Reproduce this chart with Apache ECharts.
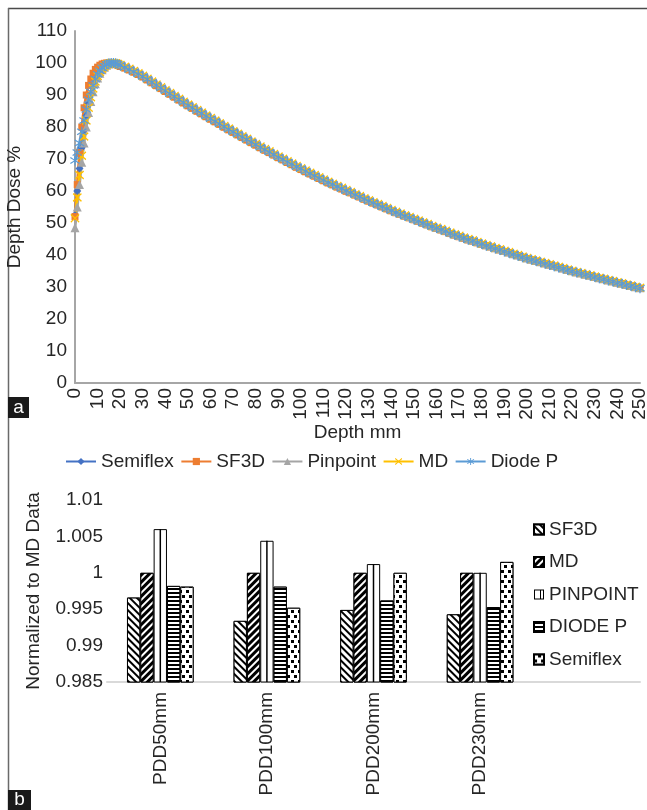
<!DOCTYPE html>
<html>
<head>
<meta charset="utf-8">
<script src="https://cdn.jsdelivr.net/npm/echarts@6/dist/echarts.min.js"></script>
<style>
  html, body { margin: 0; padding: 0; background: #fff; }
  .layer { position: absolute; left: 0; top: 0; width: 647px; height: 810px; }
</style>
</head>
<body>
<div id="pdd" class="layer"></div>
<div id="ratio" class="layer"></div>
<script>
// ---- Panel a: percentage depth dose curves (depth in mm) ----
const depthMm = [
  0, 1, 2, 3, 4, 5, 6, 7, 8, 9, 10, 11, 12, 13, 14, 15, 16, 17, 18, 19, 20,
  22, 24, 26, 28, 30, 32, 34, 36, 38, 40,
  42, 44, 46, 48, 50, 52, 54, 56, 58, 60,
  62, 64, 66, 68, 70, 72, 74, 76, 78, 80,
  82, 84, 86, 88, 90, 92, 94, 96, 98, 100,
  102, 104, 106, 108, 110, 112, 114, 116, 118, 120,
  122, 124, 126, 128, 130, 132, 134, 136, 138, 140,
  142, 144, 146, 148, 150, 152, 154, 156, 158, 160,
  162, 164, 166, 168, 170, 172, 174, 176, 178, 180,
  182, 184, 186, 188, 190, 192, 194, 196, 198, 200,
  202, 204, 206, 208, 210, 212, 214, 216, 218, 220,
  222, 224, 226, 228, 230, 232, 234, 236, 238, 240,
  242, 244, 246, 248, 250
];

const semiflexPdd = [
  52.5, 60, 67, 73.5, 79, 83.5, 87.3, 90.3, 92.8, 94.8, 96.3, 97.5, 98.4, 99.1, 99.6, 99.9, 100, 100, 99.8, 99.6, 99.3,
  98.6, 98.0, 97.3, 96.6, 95.8, 94.9, 94.0, 93.1, 92.2, 91.3,
  90.4, 89.5, 88.6, 87.7, 86.8, 86.0, 85.1, 84.3, 83.4, 82.6,
  81.8, 81.0, 80.1, 79.3, 78.5, 77.7, 76.9, 76.1, 75.3, 74.5,
  73.6, 72.8, 72.1, 71.3, 70.5, 69.8, 69.0, 68.3, 67.5, 66.8,
  66.1, 65.4, 64.7, 64.0, 63.3, 62.6, 62.0, 61.3, 60.7, 60.0,
  59.4, 58.7, 58.1, 57.4, 56.8, 56.2, 55.6, 55.0, 54.4, 53.8,
  53.4, 52.9, 52.3, 51.8, 51.2, 50.7, 50.1, 49.6, 49.0, 48.5,
  48.0, 47.5, 46.9, 46.4, 45.9, 45.4, 44.9, 44.5, 44.0, 43.5,
  43.0, 42.6, 42.1, 41.7, 41.2, 40.9, 40.4, 40.0, 39.5, 39.1,
  38.7, 38.3, 37.9, 37.5, 37.1, 36.7, 36.3, 35.9, 35.5, 35.1,
  34.7, 34.4, 34.0, 33.7, 33.3, 33.0, 32.7, 32.3, 32.0, 31.6,
  31.3, 30.9, 30.6, 30.2, 29.9
];

const sf3dPdd = [
  52, 62, 72, 80, 86, 90, 93, 95, 96.8, 98, 98.7, 99.3, 99.7, 99.9, 100, 100, 99.9, 99.7, 99.5, 99.2, 98.9,
  98.4, 97.8, 97.1, 96.4, 95.6, 94.7, 93.8, 92.9, 92.0, 91.1,
  90.2, 89.3, 88.4, 87.5, 86.6, 85.8, 84.9, 84.1, 83.2, 82.4,
  81.6, 80.8, 79.9, 79.1, 78.3, 77.5, 76.7, 75.9, 75.1, 74.3,
  73.5, 72.7, 72.0, 71.2, 70.4, 69.7, 68.9, 68.2, 67.4, 66.7,
  66.0, 65.3, 64.6, 63.9, 63.2, 62.5, 61.9, 61.2, 60.6, 59.9,
  59.4, 58.7, 58.1, 57.4, 56.8, 56.2, 55.6, 55.0, 54.4, 53.8,
  53.2, 52.7, 52.1, 51.6, 51.0, 50.5, 49.9, 49.4, 48.8, 48.3,
  47.8, 47.3, 46.7, 46.2, 45.7, 45.2, 44.7, 44.3, 43.8, 43.3,
  42.9, 42.5, 42.0, 41.6, 41.1, 40.7, 40.2, 39.8, 39.3, 38.9,
  38.5, 38.1, 37.7, 37.3, 36.9, 36.5, 36.1, 35.7, 35.3, 34.9,
  34.5, 34.2, 33.8, 33.5, 33.1, 32.7, 32.4, 32.0, 31.7, 31.3,
  31.0, 30.6, 30.3, 29.9, 29.6
];

const pinpointPdd = [
  48.5, 55, 62, 69, 75, 80, 84.5, 88, 91, 93.5, 95.3, 96.8, 97.9, 98.7, 99.3, 99.7, 99.9, 100, 100, 99.9, 99.8,
  99.3, 98.7, 98.0, 97.3, 96.5, 95.6, 94.7, 93.8, 92.9, 92.0,
  91.1, 90.2, 89.3, 88.4, 87.5, 86.7, 85.8, 85.0, 84.1, 83.3,
  82.5, 81.7, 80.8, 80.0, 79.2, 78.4, 77.6, 76.8, 76.0, 75.2,
  74.2, 73.4, 72.7, 71.9, 71.1, 70.4, 69.6, 68.9, 68.1, 67.4,
  66.7, 66.0, 65.3, 64.6, 63.9, 63.2, 62.6, 61.9, 61.3, 60.6,
  60.0, 59.3, 58.7, 58.0, 57.4, 56.8, 56.2, 55.6, 55.0, 54.4,
  53.6, 53.1, 52.5, 52.0, 51.4, 50.9, 50.3, 49.8, 49.2, 48.7,
  48.2, 47.7, 47.1, 46.6, 46.1, 45.6, 45.1, 44.7, 44.2, 43.7,
  43.2, 42.8, 42.3, 41.9, 41.4, 40.9, 40.4, 40.0, 39.5, 39.1,
  38.7, 38.3, 37.9, 37.5, 37.1, 36.7, 36.3, 35.9, 35.5, 35.1,
  34.7, 34.4, 34.0, 33.7, 33.3, 32.9, 32.6, 32.2, 31.9, 31.5,
  31.2, 30.8, 30.5, 30.1, 29.8
];

const mdPdd = [
  51.5, 58, 65, 71, 77, 82, 86, 89.3, 92, 94.2, 95.9, 97.2, 98.2, 98.9, 99.5, 99.8, 100, 100, 99.9, 99.7, 99.4,
  98.8, 98.2, 97.5, 96.8, 96.0, 95.1, 94.2, 93.3, 92.4, 91.5,
  90.6, 89.7, 88.8, 87.9, 87.0, 86.2, 85.3, 84.5, 83.6, 82.8,
  82.0, 81.2, 80.3, 79.5, 78.7, 77.9, 77.1, 76.3, 75.5, 74.7,
  73.9, 73.1, 72.4, 71.6, 70.8, 70.1, 69.3, 68.6, 67.8, 67.1,
  66.4, 65.7, 65.0, 64.3, 63.6, 62.9, 62.3, 61.6, 61.0, 60.3,
  59.7, 59.0, 58.4, 57.7, 57.1, 56.5, 55.9, 55.3, 54.7, 54.1,
  53.5, 53.0, 52.4, 51.9, 51.3, 50.8, 50.2, 49.7, 49.1, 48.6,
  48.1, 47.6, 47.0, 46.5, 46.0, 45.5, 45.0, 44.6, 44.1, 43.6,
  43.1, 42.7, 42.2, 41.8, 41.3, 40.9, 40.4, 40.0, 39.5, 39.1,
  38.7, 38.3, 37.9, 37.5, 37.1, 36.7, 36.3, 35.9, 35.5, 35.1,
  34.7, 34.4, 34.0, 33.7, 33.3, 32.9, 32.6, 32.2, 31.9, 31.5,
  31.2, 30.8, 30.5, 30.1, 29.8
];

const diodePPdd = [
  69.5, 72, 75, 78.5, 82, 85.5, 88.5, 91, 93, 95, 96.5, 97.6, 98.5, 99.1, 99.6, 99.9, 100, 100, 99.9, 99.6, 99.3,
  98.6, 98.0, 97.3, 96.6, 95.8, 94.9, 94.0, 93.1, 92.2, 91.3,
  90.4, 89.5, 88.6, 87.7, 86.8, 86.0, 85.1, 84.3, 83.4, 82.6,
  81.8, 81.0, 80.1, 79.3, 78.5, 77.7, 76.9, 76.1, 75.3, 74.5,
  73.7, 72.9, 72.2, 71.4, 70.6, 69.9, 69.1, 68.4, 67.6, 67.0,
  66.2, 65.5, 64.8, 64.1, 63.4, 62.7, 62.1, 61.4, 60.8, 60.1,
  59.5, 58.8, 58.2, 57.5, 56.9, 56.3, 55.7, 55.1, 54.5, 53.9,
  53.3, 52.8, 52.2, 51.7, 51.1, 50.6, 50.0, 49.5, 48.9, 48.4,
  47.9, 47.4, 46.8, 46.3, 45.8, 45.3, 44.8, 44.4, 43.9, 43.4,
  42.9, 42.5, 42.0, 41.6, 41.1, 40.7, 40.2, 39.8, 39.3, 38.9,
  38.5, 38.1, 37.7, 37.3, 36.9, 36.5, 36.1, 35.7, 35.3, 34.9,
  34.5, 34.2, 33.8, 33.5, 33.1, 32.7, 32.4, 32.0, 31.7, 31.3,
  31.0, 30.6, 30.3, 29.9, 29.6
];

// ---- Panel b: dose at selected depths, normalised to the MD reading ----
const ratioCategories = ['PDD50mm', 'PDD100mm', 'PDD200mm', 'PDD230mm'];
const ratioSF3D     = [0.9966, 0.9934, 0.9949, 0.9943];
const ratioMD       = [1.0000, 1.0000, 1.0000, 1.0000];
const ratioPinpoint = [1.0060, 1.0044, 1.0012, 1.0000];
const ratioDiodeP   = [0.9982, 0.9981, 0.9962, 0.9953];
const ratioSemiflex = [0.9981, 0.9952, 1.0000, 1.0015];

const FONT = "'Liberation Sans', Arial, Helvetica, sans-serif";
const INK = '#262626';

// Marker shapes: an "x" cross and an asterisk (x plus a vertical stroke)
const CROSS = 'path://M1,1.5L5,4.3L9,1.5L9.7,2.5L5.8,5L9.7,7.5L9,8.5L5,5.7L1,8.5L0.3,7.5L4.2,5L0.3,2.5Z';
const ASTERISK = CROSS + ' M4.4,0L5.6,0L5.6,10L4.4,10Z';

const toPoints = vals => depthMm.map((d, i) => [d, vals[i]]);
const curve = (name, vals, color, symbol, size) => ({
  name: name,
  type: 'line',
  data: toPoints(vals),
  symbol: symbol,
  symbolSize: size,
  showSymbol: true,
  showAllSymbol: true,
  lineStyle: { color: color, width: 2.75 },
  itemStyle: { color: color },
  emphasis: { disabled: true }
});

const pddChart = echarts.init(document.getElementById('pdd'));
pddChart.setOption({
  animation: false,
  textStyle: { fontFamily: FONT, color: INK },
  grid: { left: 75, right: 7, top: 31, bottom: 427, containLabel: false, outerBoundsMode: 'none' },
  xAxis: {
    type: 'value', min: 0, max: 250, interval: 10,
    name: 'Depth mm', nameLocation: 'middle', nameGap: 40,
    nameTextStyle: { fontSize: 19, color: INK, fontFamily: FONT },
    axisLine: { show: true, lineStyle: { color: '#a6a6a6', width: 2 } },
    axisTick: { show: false },
    splitLine: { show: false },
    axisLabel: { rotate: 90, fontSize: 19, color: INK, margin: 5, fontFamily: FONT }
  },
  yAxis: {
    type: 'value', min: 0, max: 110, interval: 10,
    name: 'Depth Dose %', nameLocation: 'middle', nameGap: 38,
    nameTextStyle: { fontSize: 19, color: INK, fontFamily: FONT },
    axisLine: { show: true, lineStyle: { color: '#a6a6a6', width: 2 } },
    axisTick: { show: false },
    splitLine: { show: false },
    axisLabel: { fontSize: 19, color: INK, margin: 8, fontFamily: FONT }
  },
  legend: {
    left: 60, top: 447, orient: 'horizontal',
    itemWidth: 30, itemHeight: 9, itemGap: 6.5,
    textStyle: { fontSize: 19, color: INK, fontFamily: FONT },
    data: ['Semiflex', 'SF3D', 'Pinpoint', 'MD', 'Diode P']
  },
  graphic: [
    { type: 'line', silent: true, shape: { x1: 8, y1: 8.5, x2: 647, y2: 8.5 }, style: { stroke: '#4a4a4a', lineWidth: 1.5 } },
    { type: 'line', silent: true, shape: { x1: 8.5, y1: 8, x2: 8.5, y2: 810 }, style: { stroke: '#6a6a6a', lineWidth: 1.5 } },
    { type: 'rect', silent: true, shape: { x: 8, y: 397, width: 21, height: 21 }, style: { fill: '#1a1a1a' } },
    { type: 'text', silent: true, x: 18.5, y: 407.5, style: { text: 'a', fill: '#fff', font: '19px ' + FONT, align: 'center', verticalAlign: 'middle' } }
  ],
  series: [
    curve('Semiflex', semiflexPdd, '#4472C4', 'diamond', 8),
    curve('SF3D', sf3dPdd, '#ED7D31', 'rect', 7),
    curve('Pinpoint', pinpointPdd, '#A5A5A5', 'triangle', 9),
    curve('MD', mdPdd, '#FFC000', CROSS, 9),
    curve('Diode P', diodePPdd, '#5B9BD5', ASTERISK, 10)
  ]
});

// ---- Panel b chart ----
const Y_MIN = 0.985;
const hatch = (dashY, rotation) => ({
  symbol: 'rect', symbolSize: 1, color: '#000', backgroundColor: '#fff',
  dashArrayX: [1, 0], dashArrayY: dashY, rotation: rotation
});
const decals = {
  sf3d: hatch([2, 3], Math.PI / 4),
  md: hatch([3, 2], -Math.PI / 4),
  diode: hatch([2, 2], 0),
  semiflex: {
    symbol: 'rect', symbolSize: 1, color: '#000', backgroundColor: '#fff',
    dashArrayX: [[3, 4], [0, 4, 3, 0]], dashArrayY: [3, 2], rotation: 0
  }
};
const bars = (name, vals, decal) => ({
  name: name,
  type: 'bar',
  data: vals,
  barWidth: 13.33,
  barGap: '0%',
  itemStyle: decal
    ? { color: '#fff', borderColor: '#000', borderWidth: 1, decal: decal }
    : { color: '#fff', borderColor: '#000', borderWidth: 1 },
  emphasis: { disabled: true }
});

const ratioChart = echarts.init(document.getElementById('ratio'));
ratioChart.setOption({
  animation: false,
  textStyle: { fontFamily: FONT, color: INK },
  grid: { left: 107, right: 7, top: 500, bottom: 128, containLabel: false, outerBoundsMode: 'none' },
  xAxis: {
    type: 'category',
    data: ratioCategories.concat(['']),
    axisLine: { show: true, lineStyle: { color: '#d9d9d9', width: 2 } },
    axisTick: { show: false },
    axisLabel: { rotate: 90, fontSize: 19, color: INK, margin: 10, interval: 0, fontFamily: FONT }
  },
  yAxis: {
    type: 'value', min: Y_MIN, max: 1.01, interval: 0.005,
    name: 'Normalized to MD Data', nameLocation: 'middle', nameGap: 64,
    nameTextStyle: { fontSize: 19, color: INK, fontFamily: FONT },
    axisLine: { show: false },
    axisTick: { show: false },
    splitLine: { show: false },
    axisLabel: {
      fontSize: 19, color: INK, margin: 4, fontFamily: FONT,
      formatter: v => String(+v.toFixed(3))
    }
  },
  legend: {
    orient: 'vertical', left: 528, top: 515,
    itemWidth: 10, itemHeight: 10, itemGap: 13.5,
    textStyle: { fontSize: 19, color: INK, fontFamily: FONT },
    data: [
      { name: 'SF3D', icon: 'rect' },
      { name: 'MD', icon: 'rect' },
      { name: 'PINPOINT', icon: 'path://M0,0L10,0L10,10L0,10Z M1,1L1,9L6,9L6,1Z M7,1L7,9L9,9L9,1Z', itemStyle: { color: '#000', borderWidth: 0 } },
      { name: 'DIODE P', icon: 'rect' },
      { name: 'Semiflex', icon: 'rect' }
    ]
  },
  graphic: [
    { type: 'rect', silent: true, shape: { x: 8, y: 790, width: 23, height: 20 }, style: { fill: '#1a1a1a' } },
    { type: 'text', silent: true, x: 19.5, y: 800, style: { text: 'b', fill: '#fff', font: '19px ' + FONT, align: 'center', verticalAlign: 'middle' } }
  ],
  series: [
    bars('SF3D', ratioSF3D, decals.sf3d),
    bars('MD', ratioMD, decals.md),
    bars('PINPOINT', ratioPinpoint, null),
    bars('DIODE P', ratioDiodeP, decals.diode),
    bars('Semiflex', ratioSemiflex, decals.semiflex),
    {
      // centre stroke of the PINPOINT bars
      type: 'custom',
      silent: true,
      z: 5,
      data: ratioPinpoint.map((v, i) => [i, v]),
      renderItem: (params, api) => {
        const top = api.coord([api.value(0), api.value(1)]);
        const base = api.coord([api.value(0), Y_MIN]);
        return {
          type: 'line',
          shape: { x1: top[0], y1: top[1], x2: base[0], y2: base[1] },
          style: { stroke: '#000', lineWidth: 1.5 }
        };
      }
    }
  ]
});
</script>
</body>
</html>
